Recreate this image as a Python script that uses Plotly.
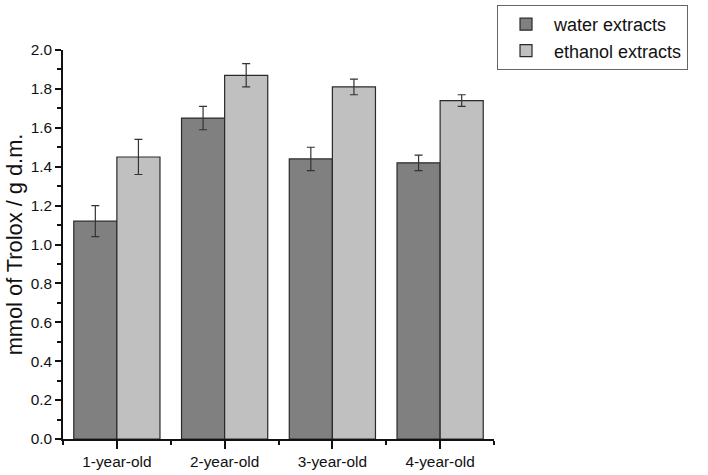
import plotly.graph_objects as go

categories = ["1-year-old", "2-year-old", "3-year-old", "4-year-old"]
water = [1.12, 1.65, 1.44, 1.42]
water_err = [0.08, 0.06, 0.06, 0.04]
ethanol = [1.45, 1.87, 1.81, 1.74]
ethanol_err = [0.09, 0.06, 0.04, 0.03]
y_ticks = [0.0, 0.2, 0.4, 0.6, 0.8, 1.0, 1.2, 1.4, 1.6, 1.8, 2.0]

xpos = list(range(len(categories)))
font = "Liberation Sans, Arial, sans-serif"

fig = go.Figure()
fig.add_trace(go.Bar(
    x=xpos, y=water, name="water extracts",
    marker=dict(color="#808080", line=dict(color="#2a2a2a", width=1.2)),
    error_y=dict(type="data", array=water_err, color="#333333", thickness=1.2, width=4),
))
fig.add_trace(go.Bar(
    x=xpos, y=ethanol, name="ethanol extracts",
    marker=dict(color="#c0c0c0", line=dict(color="#2a2a2a", width=1.2)),
    error_y=dict(type="data", array=ethanol_err, color="#333333", thickness=1.2, width=4),
))

fig.update_layout(
    width=708, height=475,
    margin=dict(l=63, r=214, t=50, b=36, autoexpand=False),
    paper_bgcolor="white", plot_bgcolor="white",
    barmode="group", bargap=0.2, bargroupgap=0,
    font=dict(family=font, color="#111111", size=15),
    legend=dict(
        xref="container", yref="container",
        x=0.702, y=0.9895, xanchor="left", yanchor="top",
        bordercolor="#666666", borderwidth=1,
        font=dict(size=18, family=font),
        tracegroupgap=0, itemwidth=46,
    ),
    showlegend=True,
)
fig.update_xaxes(
    range=[-0.5, 3.5], automargin=False,
    tickvals=xpos, ticktext=categories,
    showline=True, linecolor="#111111", linewidth=1.5,
    ticks="outside", ticklen=8, tickwidth=1.5, tickcolor="#111111",
    showgrid=False, zeroline=False,
    tickfont=dict(size=15.4),
    minor=dict(tickvals=[-0.5, 0.5, 1.5, 2.5, 3.5], ticks="outside", ticklen=4,
               tickwidth=1.5, tickcolor="#111111", showgrid=False),
)
fig.update_yaxes(
    range=[0, 2.0], automargin=False,
    tickvals=y_ticks, ticktext=[f"{v:.1f}" for v in y_ticks],
    showline=True, linecolor="#111111", linewidth=1.5,
    ticks="outside", ticklen=6, tickwidth=1.5, tickcolor="#111111",
    showgrid=False, zeroline=False,
    tickfont=dict(size=15.4),
    title=dict(text="mmol of Trolox / g d.m.", font=dict(size=21.8), standoff=2),
    minor=dict(dtick=0.1, ticks="outside", ticklen=4, tickwidth=1.5,
               tickcolor="#111111", showgrid=False),
)

fig.write_html("out.html", config={"displayModeBar": False},
               post_script="document.body.style.margin='0';")
